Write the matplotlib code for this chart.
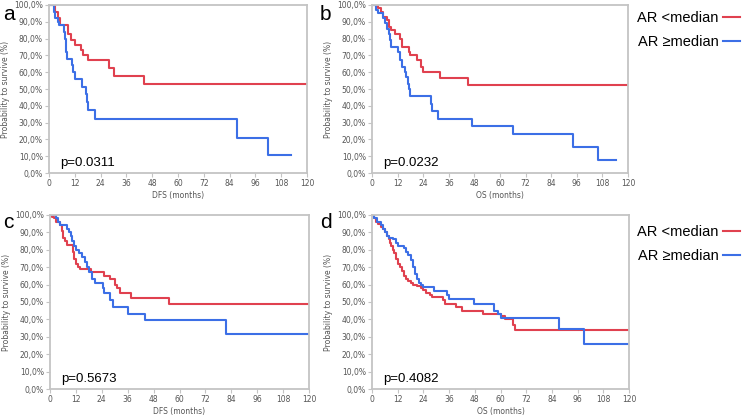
import matplotlib
matplotlib.use("Agg")
import matplotlib.pyplot as plt
from matplotlib.ticker import FuncFormatter

# Kaplan-Meier step data (time in months, survival in %)
a_low_t = [0, 3, 4, 5, 9, 10, 12, 15, 16, 18, 28, 30, 44, 120]
a_low_s = [100, 96, 92, 88, 83, 79, 76, 73, 70, 67, 62.5, 58, 53, 53]
a_high_t = [0, 2.5, 3, 4, 4.5, 7, 7.5, 8, 8.5, 10.5, 11, 12, 15.5, 17, 17.5, 18, 21.5, 87.5, 102, 112.5]
a_high_s = [100, 96, 92, 90, 88, 84, 80, 72, 68, 64, 60, 56, 51, 47, 42, 37.5, 32, 21, 11, 11]

b_low_t = [0, 3, 4, 5, 7, 8, 9, 11, 13, 14, 17.5, 18, 21, 23, 24, 32, 45, 120]
b_low_s = [100, 98, 96, 93, 91, 87, 85, 83, 80, 75, 72, 70, 67, 63, 60, 56.5, 52.5, 52.5]
b_high_t = [0, 2, 3, 5, 6, 7, 8, 8.5, 9, 12, 13, 14, 15.5, 16, 17, 17.5, 18, 27.5, 28, 31, 47, 66, 94, 106, 114.5]
b_high_s = [100, 97, 95, 92, 89, 86, 83, 79, 75, 72, 67, 63, 60, 57, 53, 50, 46, 41, 37, 32, 28, 23, 15.5, 8, 8]

c_low_t = [0, 1, 2, 3, 4.5, 5.5, 6, 7, 8, 10.5, 11, 12, 13, 14, 19, 25, 28, 30, 31, 32.5, 37.5, 55, 120]
c_low_s = [100, 99, 98, 96, 94, 91, 87, 85, 83, 79, 75, 72, 70, 69, 67, 65, 63, 60, 58, 55, 52.5, 49, 49]
c_high_t = [0, 3, 3.5, 4.5, 8, 9, 9.5, 10, 11, 12, 13.5, 15, 16, 17, 18, 19.5, 21, 24.5, 25, 28, 29, 36, 44, 81.5, 120]
c_high_s = [100, 98, 96, 94, 92, 90, 88, 85, 82, 80, 78, 76, 73, 70, 67, 63, 61, 58, 55, 51, 47, 43, 39.5, 31.5, 31.5]

d_low_t = [0, 1, 2, 3, 4, 5, 6, 7, 8, 8.5, 9, 10, 10.5, 11, 12, 13, 14, 15, 16, 17, 18, 19, 21, 23, 24,
           25, 27, 28, 33, 34, 39, 42, 52, 60, 62, 66, 67, 120]
d_low_s = [100, 98, 96, 95, 93, 92, 90, 88, 86, 84, 82, 80, 78, 75, 72, 70, 68, 65, 63, 62, 61, 60, 59, 58, 57,
           55, 54, 53, 51, 49, 47, 45, 43, 42, 40, 37, 34, 34]
d_high_t = [0, 1, 2.5, 4, 5, 6, 7, 8, 10, 11, 12, 15, 16, 17, 18, 19, 20, 21, 22, 23, 24, 29, 35, 36,
            47.5, 57, 59, 60, 87.5, 99, 120]
d_high_s = [100, 98, 96, 94, 92, 90, 88, 87, 86, 84, 82, 81, 79, 77, 74, 70, 66, 63, 61, 60, 58.5, 56.5, 54, 51.5,
            49, 45, 43, 41, 34.5, 26, 26]

panels = ["a", "b", "c", "d"]
xlabels = ["DFS (months)", "OS (months)", "DFS (months)", "OS (months)"]
pvalues = ["p=0.0311", "p=0.0232", "p=0.5673", "p=0.4082"]
groups = ["AR <median", "AR \u2265median"]
x_ticks = list(range(0, 121, 12))
y_ticks = list(range(0, 101, 10))

RED = "#e0414f"
BLUE = "#3c6fe6"
GREY = "#c4c4c4"

fig = plt.figure(figsize=(7.45, 4.17), dpi=100)
W, H = 745, 417
boxes = [(49, 5, 307, 173), (372, 5, 628, 173), (50, 215, 309, 389), (372, 215, 629, 389)]
curves = [(a_low_t, a_low_s, a_high_t, a_high_s),
          (b_low_t, b_low_s, b_high_t, b_high_s),
          (c_low_t, c_low_s, c_high_t, c_high_s),
          (d_low_t, d_low_s, d_high_t, d_high_s)]

axes = []
for i, (x0, y0, x1, y1) in enumerate(boxes):
    ax = fig.add_axes([x0 / W, 1 - y1 / H, (x1 - x0) / W, (y1 - y0) / H])
    lt, ls, ht, hs = curves[i]
    ax.step(lt, ls, where="post", color=RED, lw=1.5, label=groups[0])
    ax.step(ht, hs, where="post", color=BLUE, lw=1.5, label=groups[1])
    ax.set_xlim(0, 120)
    ax.set_ylim(0, 100)
    ax.set_xticks(x_ticks)
    ax.set_yticks(y_ticks)
    ax.yaxis.set_major_formatter(FuncFormatter(lambda v, p: f"{v:.1f}%".replace(".", ",")))
    ax.tick_params(labelsize=5.5, colors="#555555", length=3, width=0.8, pad=1.5)
    ax.tick_params(axis="both", color=GREY)
    for sp in ax.spines.values():
        sp.set_color(GREY)
        sp.set_linewidth(1.3)
    ax.set_xlabel(xlabels[i], fontsize=5.5, color="#555555", labelpad=2)
    ax.set_ylabel("Probability to survive (%)", fontsize=5.5, color="#555555", labelpad=3)
    ax.text(0.045, 0.06, pvalues[i], transform=ax.transAxes, fontsize=9.5,
            family="Liberation Sans", va="center")
    axes.append(ax)

# panel letters
fig.text(3 / W, 1 - 14 / H, "a", fontsize=15, va="center", family="Liberation Sans")
fig.text(320 / W, 1 - 14 / H, "b", fontsize=15, va="center", family="Liberation Sans")
fig.text(3 / W, 1 - 222 / H, "c", fontsize=15, va="center", family="Liberation Sans")
fig.text(320 / W, 1 - 222 / H, "d", fontsize=15, va="center", family="Liberation Sans")

# legends to the right, text before the line
for ax, top in [(axes[1], 11), (axes[3], 225)]:
    h, l = ax.get_legend_handles_labels()
    fig.legend(h, l, loc="upper left", bbox_to_anchor=(637 / W, 1 - top / H),
               frameon=False, markerfirst=False, handlelength=1.2, handletextpad=0.3,
               labelspacing=0.72, borderaxespad=0, borderpad=0,
               prop={"family": "Liberation Sans", "size": 10.5})

plt.savefig("out.png", dpi=100)
